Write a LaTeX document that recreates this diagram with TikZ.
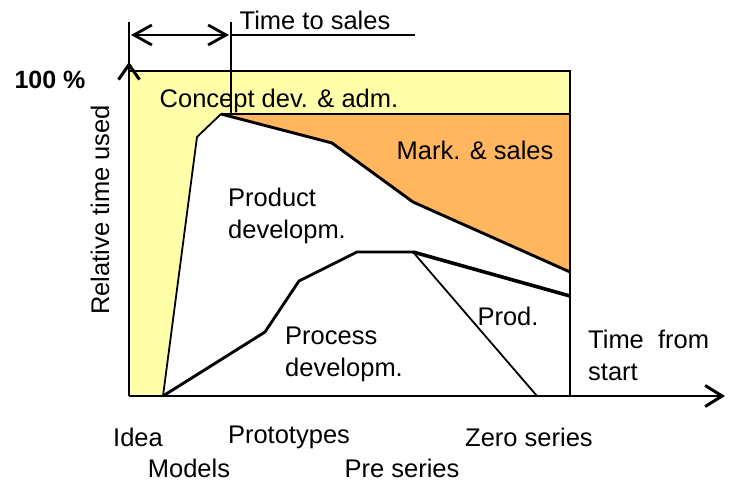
\documentclass[tikz,border=0pt]{standalone}
\usepackage{fontspec}
\setmainfont{Liberation Sans}
\usetikzlibrary{arrows.meta}
\definecolor{lyellow}{HTML}{FFFFAA}
\definecolor{lorange}{HTML}{FFB65E}
\begin{document}
\begin{tikzpicture}[x=1pt,y=-1pt,
  lbl/.style={font=\fontsize{25.5}{32}\selectfont, inner sep=0pt},
  thickln/.style={line width=2.9pt, line join=round},
  thinln/.style={line width=1.8pt, line join=round},
  ybarb/.style={-{Straight Barb[length=15pt,width=21pt,line width=3pt]}},
  xbarb/.style={-{Straight Barb[length=17pt,width=21pt,line width=3pt]}},
  dbarb/.style={{Straight Barb[length=18pt,width=20pt,line width=2.8pt]}-{Straight Barb[length=18pt,width=20pt,line width=2.8pt]}}]
\useasboundingbox (0,0) rectangle (737,481);
% coordinates
\coordinate (TL) at (129,71);
\coordinate (BR) at (570,396);
\coordinate (BL) at (129,396);
\coordinate (TR) at (570,71);
\coordinate (s0) at (163,396);
\coordinate (s2) at (197,137);
\coordinate (pk) at (221,114);
\coordinate (m1) at (332,143);
\coordinate (m2) at (413,202);
\coordinate (m3) at (570,272);
\coordinate (tr2) at (570,114);
\coordinate (p1) at (265,332);
\coordinate (p2) at (299,281);
\coordinate (p3) at (357,252);
\coordinate (p4) at (413,252);
\coordinate (p5) at (570,296);
\coordinate (z0) at (537,396);
% regions
\fill[lyellow] (TL) rectangle (BR);
\fill[lorange] (pk) -- (tr2) -- (m3) -- (m2) -- (m1) -- cycle;
\fill[white] (s0) -- (s2) -- (pk) -- (m1) -- (m2) -- (m3) -- (BR) -- cycle;
% lines
\draw[thinln] (s0) -- (s2) -- (pk);
\draw[thickln] (pk) -- (tr2);
\draw[thickln] (pk) -- (m1) -- (m2) -- (m3);
\draw[thickln] (s0) -- (p1) -- (p2) -- (p3) -- (p4);
\draw[line width=3.6pt] (p4) -- (p5);
\draw[thinln] (p4) -- (z0);
\draw[line width=2.7pt] (TL) -- (TR) -- (BR) -- (BL);
% axes
\coordinate (ytip) at (129,62);
\coordinate (xtip) at (725,396);
\draw[line width=2.8pt, ybarb] (BL) -- (ytip);
\draw[line width=2.8pt, xbarb] (BR) -- (xtip);
% time to sales dimension
\coordinate (e1t) at (129,22);
\coordinate (e2t) at (231,22);
\coordinate (a1) at (131,35);
\coordinate (a2) at (229,35);
\coordinate (h1) at (231,35);
\coordinate (h2) at (415,35);
\draw[line width=2.8pt] (e1t) -- (TL);
\draw[line width=2.8pt] (e2t) -- (pk -| e2t);
\draw[line width=2.6pt, dbarb] (a1) -- (a2);
\draw[line width=2.6pt] (h1) -- (h2);
% labels
\node[lbl] (tts) at (315,20) {Time to sales};
\node[lbl, font=\fontsize{25}{32}\selectfont\bfseries] (hundred) at (50,80) {100 \%};
\node[lbl, rotate=90] (rtu) at (100,210) {Relative time used};
\node[lbl] (conc) at (279,101) {Concept dev. \& adm.};
\node[lbl] (mark) at (475,150) {Mark. \& sales};
\node[lbl, align=left, anchor=west] (prodd) at (228,216) {Product\\developm.};
\node[lbl, align=left, anchor=west] (procd) at (285,354) {Process\\developm.};
\node[lbl] (prod) at (508,316) {Prod.};
\node[lbl, align=left, anchor=west] (tfs) at (588,355) {Time\ \ from\\start};
\node[lbl] (idea) at (138,437) {Idea};
\node[lbl] (models) at (189,468) {Models};
\node[lbl] (proto) at (289,437) {Prototypes};
\node[lbl] (pre) at (402,468) {Pre series};
\node[lbl] (zero) at (529,437) {Zero series};
\end{tikzpicture}
\end{document}
